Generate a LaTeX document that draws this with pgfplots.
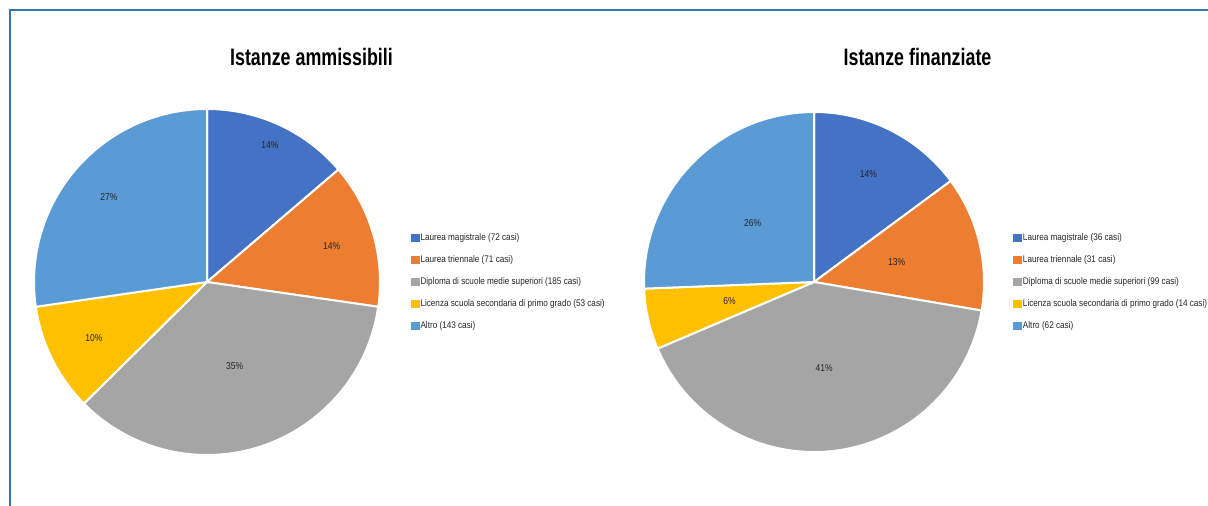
\documentclass[border=0pt]{standalone}
\usepackage{pgfplots}
\pgfplotsset{compat=1.18}
\usepackage{pgfplotstable}
\usepackage{fontspec}
\setmainfont{Liberation Sans}[FakeStretch=0.85]
\newfontfamily\titlefont{Liberation Sans}[FakeStretch=0.75]

\definecolor{pie0}{HTML}{4472C4}
\definecolor{pie1}{HTML}{ED7D31}
\definecolor{pie2}{HTML}{A5A5A5}
\definecolor{pie3}{HTML}{FFC000}
\definecolor{pie4}{HTML}{5B9BD5}
\definecolor{frameblue}{HTML}{2E75B6}

\newcommand\pctfont{\fontsize{5}{6}\selectfont}
\newcommand\legfont{\fontsize{4.8}{6}\selectfont}

% label = category, n = cases, pct = printed share, lr = label radius (fraction of R)
\pgfplotstableread[col sep=comma]{
label,n,pct,lr
Laurea magistrale,72,14,0.87
Laurea triennale,71,14,0.75
Diploma di scuole medie superiori,185,35,0.51
Licenza scuola secondaria di primo grado,53,10,0.73
Altro,143,27,0.75
}\ammissibili

\pgfplotstableread[col sep=comma]{
label,n,pct,lr
Laurea magistrale,36,14,0.71
Laurea triennale,31,13,0.50
Diploma di scuole medie superiori,99,41,0.51
Licenza scuola secondaria di primo grado,14,6,0.51
Altro,62,26,0.50
}\finanziate

% angles (clockwise from 12 o'clock), label positions and legend texts
\newcommand\preppie[2]{%
  \gdef\pietotal{0}%
  \pgfplotstableforeachcolumnelement{n}\of#1\as\cellv{%
    \pgfmathparse{\pietotal+\cellv}\xdef\pietotal{\pgfmathresult}}%
  \gdef\piecum{0}%
  \pgfplotstableforeachcolumnelement{n}\of#1\as\cellv{%
    \pgfmathparse{90-\piecum/\pietotal*360}%
    \expandafter\xdef\csname #2s\pgfplotstablerow\endcsname{\pgfmathresult}%
    \pgfmathparse{\piecum+\cellv}\xdef\piecum{\pgfmathresult}%
    \pgfmathparse{90-\piecum/\pietotal*360}%
    \expandafter\xdef\csname #2e\pgfplotstablerow\endcsname{\pgfmathresult}}%
  \pgfplotsinvokeforeach{0,...,4}{%
    \pgfplotstablegetelem{##1}{lr}\of#1\let\plr\pgfplotsretval%
    \pgfmathparse{(\csname #2s##1\endcsname+\csname #2e##1\endcsname)/2}\let\pmid\pgfmathresult%
    \pgfmathparse{\plr*cos(\pmid)}\expandafter\xdef\csname #2x##1\endcsname{\pgfmathresult}%
    \pgfmathparse{\plr*sin(\pmid)}\expandafter\xdef\csname #2y##1\endcsname{\pgfmathresult}%
    \pgfplotstablegetelem{##1}{pct}\of#1%
    \expandafter\xdef\csname #2p##1\endcsname{\pgfplotsretval}%
    \pgfplotstablegetelem{##1}{label}\of#1\let\plab\pgfplotsretval%
    \pgfplotstablegetelem{##1}{n}\of#1%
    \expandafter\xdef\csname #2l##1\endcsname{\plab\space(\pgfplotsretval\space casi)}%
  }}

\newcommand\drawpie[2]{%
  \pgfplotsinvokeforeach{0,...,4}{%
    \fill[pie##1, draw=white, line width=1pt, line join=round]
      (axis cs:0,0) -- ++(\csname #1s##1\endcsname:#2)
      arc[start angle=\csname #1s##1\endcsname, end angle=\csname #1e##1\endcsname, radius=#2] -- cycle;
    \node[font=\pctfont, text=black!85, inner sep=0pt]
      at (axis cs:{\csname #1x##1\endcsname},{\csname #1y##1\endcsname}) {\csname #1p##1\endcsname\%};
    \addlegendimage{pie##1}
    \addlegendentryexpanded{\csname #1l##1\endcsname}
  }}

\pgfplotsset{
  piestyle/.style={
    hide axis, clip=false,
    xmin=-1, xmax=1, ymin=-1, ymax=1,
    anchor=center,
    legend cell align=left,
    legend image code/.code={\fill[##1] (0pt,-1.6pt) rectangle (4pt,1.6pt);},
    legend style={anchor=west, draw=none, fill=none, inner sep=0pt,
      row sep=6.4pt, column sep=0.6pt, font=\legfont,
      nodes={inner sep=0pt, text height=3.6pt, text depth=1pt, text=black!85}},
  },
}

\begin{document}
% 1 px of the reference = 0.5pt
\begin{tikzpicture}
\preppie{\ammissibili}{A}
\preppie{\finanziate}{F}
\useasboundingbox (0pt,0pt) rectangle (604pt,253pt);
\draw[frameblue, line width=0.7pt] (5pt,0pt) -- (5pt,248pt) -- (604pt,248pt);

\node[font=\titlefont\bfseries\fontsize{11.9}{13}\selectfont, anchor=base] at (155.75pt,220pt) {Istanze ammissibili};
\node[font=\titlefont\bfseries\fontsize{11.9}{13}\selectfont, anchor=base] at (458.75pt,220pt) {Istanze finanziate};

\begin{axis}[piestyle, at={(103.5pt,112pt)}, x=86.5pt, y=86.5pt,
  legend style={at={(1.087,0.5)}}]
\drawpie{A}{86.5pt}
\end{axis}

\begin{axis}[piestyle, at={(407pt,112pt)}, x=85pt, y=85pt,
  legend style={at={(1.084,0.5)}}]
\drawpie{F}{85pt}
\end{axis}
\end{tikzpicture}
\end{document}
